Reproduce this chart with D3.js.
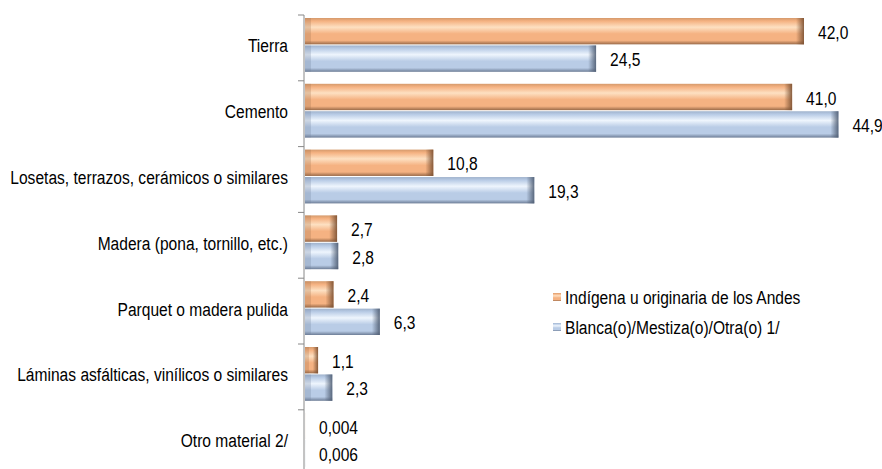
<!DOCTYPE html>
<html>
<head>
<meta charset="utf-8">
<script src="https://cdn.jsdelivr.net/npm/d3@7"></script>
<style>
  body { margin: 0; background: #fff; }
  text { font-family: "Liberation Sans", Arial, sans-serif; fill: #000; font-size: 19px; }
</style>
</head>
<body>
<div id="chart-area"><svg></svg></div>
<script>
const chartSize = { width: 882, height: 469 };
const margin = { left: 304, top: 15 };
const bandH = 65.8;
const squeeze = 0.82; // narrow font look

const categories = ['Tierra', 'Cemento', 'Losetas, terrazos, cerámicos o similares',
  'Madera (pona, tornillo, etc.)', 'Parquet o madera pulida',
  'Láminas asfálticas, vinílicos o similares', 'Otro material 2/'];
const seriesNames = ['Indígena u originaria de los Andes', 'Blanca(o)/Mestiza(o)/Otra(o) 1/'];
const indigena = [42.0, 41.0, 10.8, 2.7, 2.4, 1.1, 0.004];
const blanca = [24.5, 44.9, 19.3, 2.8, 6.3, 2.3, 0.006];
const valueLabels = [
  ['42,0', '41,0', '10,8', '2,7', '2,4', '1,1', '0,004'],
  ['24,5', '44,9', '19,3', '2,8', '6,3', '2,3', '0,006']
];

const palettes = [
  { top: '#d59a6c', light: '#fde0c2', mid: '#f5b282', dark: '#9a6a48', end: '#7a5032' },
  { top: '#9fb2cc', light: '#eef5fd', mid: '#b9cce6', dark: '#6d7d96', end: '#4f5d72' }
];

const svg = d3.select('#chart-area svg')
  .attr('width', chartSize.width)
  .attr('height', chartSize.height);

const label = (parent, x, y, txt, anchor) =>
  parent.append('g').attr('transform', `translate(${x},${y}) scale(${squeeze},1)`)
    .append('text').attr('text-anchor', anchor || 'start')
    .attr('dominant-baseline', 'central').text(txt);

const defs = svg.append('defs');
palettes.forEach((p, i) => {
  const g = defs.append('linearGradient').attr('id', 'vg' + i)
    .attr('x1', 0).attr('y1', 0).attr('x2', 0).attr('y2', 1);
  [[0, p.top], [0.12, p.mid], [0.35, p.light], [0.6, p.mid], [0.85, p.mid], [1, p.dark]]
    .forEach(([o, c]) => g.append('stop').attr('offset', o).attr('stop-color', c));
  const h = defs.append('linearGradient').attr('id', 'hg' + i)
    .attr('x1', 0).attr('y1', 0).attr('x2', 1).attr('y2', 0);
  h.append('stop').attr('offset', 0).attr('stop-color', p.end).attr('stop-opacity', 0);
  h.append('stop').attr('offset', 1).attr('stop-color', p.end).attr('stop-opacity', 0.9);
});

const x = d3.scaleLinear().domain([0, 42]).range([0, 499]);
const y = d3.scaleBand().domain(categories)
  .range([0, bandH * categories.length]).paddingInner(0).paddingOuter(0);
const sub = d3.scaleBand().domain([0, 1]).range([3, bandH - 9]).paddingInner(0.04);

const g = svg.append('g').attr('transform', `translate(${margin.left},${margin.top})`);

g.append('path').attr('d', `M0,0V${chartSize.height}`).attr('stroke', '#888');
categories.forEach(c => {
  g.append('line').attr('x1', -6).attr('x2', 0)
    .attr('y1', y(c)).attr('y2', y(c)).attr('stroke', '#888');
  label(g, -16, y(c) + y.bandwidth() / 2 - 2, c, 'end');
});

[indigena, blanca].forEach((vals, s) => {
  const bh = sub.bandwidth();
  vals.forEach((d, i) => {
    const bar = g.append('g')
      .attr('transform', `translate(1,${y(categories[i]) + sub(s)})`);
    const w = x(d), cap = Math.min(8, w * 0.4);
    bar.append('rect').attr('width', w).attr('height', bh).attr('fill', `url(#vg${s})`);
    bar.append('rect').attr('x', w - cap).attr('width', cap).attr('height', bh)
      .attr('fill', `url(#hg${s})`);
    bar.append('rect').attr('width', Math.min(6, w * 0.3)).attr('height', bh)
      .attr('fill', palettes[s].dark).attr('opacity', 0.25);
    label(bar, w + 14, bh / 2 + 1, valueLabels[s][i]);
  });
});

const legend = svg.append('g').attr('transform', 'translate(553,297)');
seriesNames.forEach((n, i) => {
  const row = legend.append('g').attr('transform', `translate(0,${i * 30})`);
  row.append('rect').attr('x', 0).attr('y', -4).attr('width', 8).attr('height', 8)
    .attr('fill', `url(#vg${i})`);
  label(row, 12, 0, n);
});
</script>
</body>
</html>
